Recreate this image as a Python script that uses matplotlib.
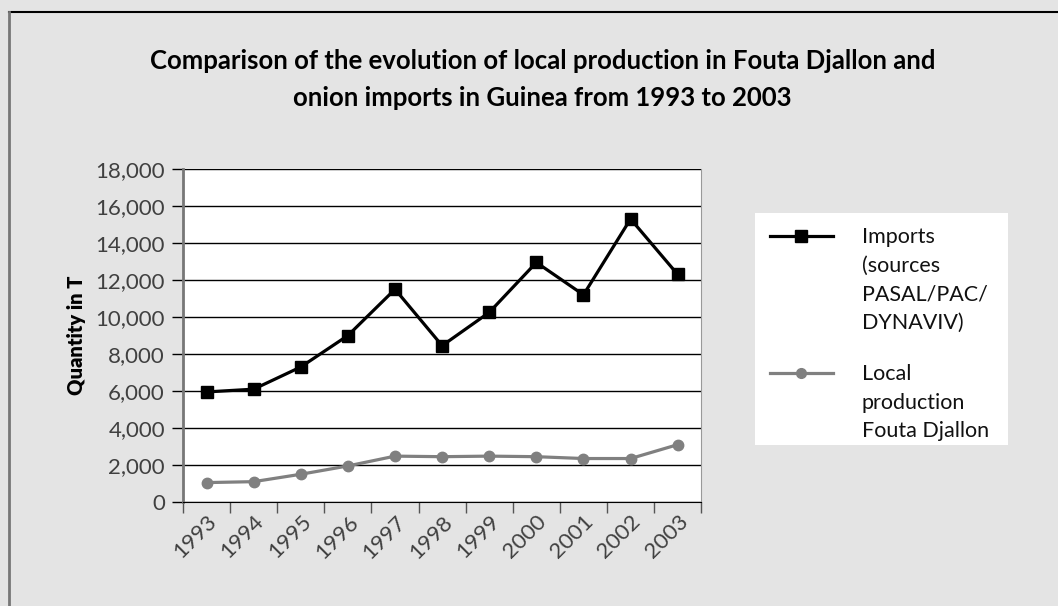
import matplotlib.pyplot as plt
from matplotlib.lines import Line2D
from matplotlib.ticker import FuncFormatter

years = ['1993', '1994', '1995', '1996', '1997', '1998', '1999', '2000', '2001', '2002', '2003']
imports = [5950, 6100, 7300, 9000, 11500, 8450, 10250, 12950, 11200, 15300, 12300]
local_prod = [1050, 1100, 1500, 1950, 2480, 2450, 2480, 2450, 2350, 2350, 3100]

label_imports = 'Imports\n(sources\nPASAL/PAC/\nDYNAVIV)'
label_local = 'Local\nproduction\nFouta Djallon'
title = ('Comparison of the evolution of local production in Fouta Djallon and\n'
         'onion imports in Guinea from 1993 to 2003')

bg = '#e4e4e4'
plt.rcParams['font.family'] = ['Lato', 'DejaVu Sans']

fig = plt.figure(figsize=(10.58, 6.06), dpi=100, facecolor=bg)

# outer frame (only top and left edges are visible)
fig.add_artist(Line2D([9 / 1058, 1], [1 - 12 / 606, 1 - 12 / 606], color='black', lw=1.5,
                      transform=fig.transFigure))
fig.add_artist(Line2D([9 / 1058, 9 / 1058], [0, 1 - 12 / 606], color='#777777', lw=2,
                      transform=fig.transFigure))

fig.text(0.513, 0.868, title, ha='center', va='center', fontsize=18.5, fontweight='bold',
         linespacing=1.65)

ax = fig.add_axes([0.173, 0.1716, 0.4898, 0.5495])
ax.set_facecolor('white')
x = list(range(len(years)))
ax.plot(x, imports, color='black', lw=2.3, marker='s', markersize=8, zorder=3)
ax.plot(x, local_prod, color='#808080', lw=2.3, marker='o', markersize=7.5, zorder=3)

ax.set_xlim(-0.5, len(years) - 0.5)
ax.set_ylim(0, 18000)
ax.set_yticks(range(0, 18001, 2000))
ax.yaxis.set_major_formatter(FuncFormatter(lambda v, p: f'{int(v):,}'))
ax.grid(axis='y', color='black', lw=1)
ax.set_axisbelow(True)

# category boundary ticks, labels at category centres
ax.set_xticks([i - 0.5 for i in range(len(years) + 1)])
ax.set_xticklabels([])
ax.set_xticks(x, minor=True)
ax.set_xticklabels(years, minor=True, rotation=45, ha='right', rotation_mode='anchor')
ax.tick_params(axis='x', which='major', length=8, color='#555555', width=1)
ax.tick_params(axis='x', which='minor', length=0, pad=7, labelsize=16, labelcolor='#404040')
ax.tick_params(axis='y', length=8, color='black', width=1, labelsize=16, labelcolor='#404040', pad=5)

ax.spines['left'].set_color('#777777')
ax.spines['left'].set_linewidth(2)
ax.spines['right'].set_color('#999999')
ax.spines['top'].set_visible(False)
ax.spines['bottom'].set_color('black')

ax.set_ylabel('Quantity in T', fontsize=14.5, fontweight='heavy', labelpad=7)

# legend panel
lax = fig.add_axes([0.7136, 0.2657, 0.2391, 0.383])
lax.set_facecolor('white')
lax.set_xlim(0, 1)
lax.set_ylim(0, 1)
lax.set_xticks([])
lax.set_yticks([])
for s in lax.spines.values():
    s.set_visible(False)

entries = [(label_imports, 'black', 's', 8, 0.901), (label_local, '#808080', 'o', 7, 0.310)]
for text, col, mk, ms, yy in entries:
    lax.plot([0.059, 0.308], [yy, yy], color=col, lw=2.3)
    lax.plot([0.1835], [yy], color=col, marker=mk, markersize=ms)
    lax.text(0.423, yy + 0.04, text, ha='left', va='top', fontsize=15.5,
             color='#111111', linespacing=1.55)

fig.savefig('out.png', dpi=100, facecolor=bg)
